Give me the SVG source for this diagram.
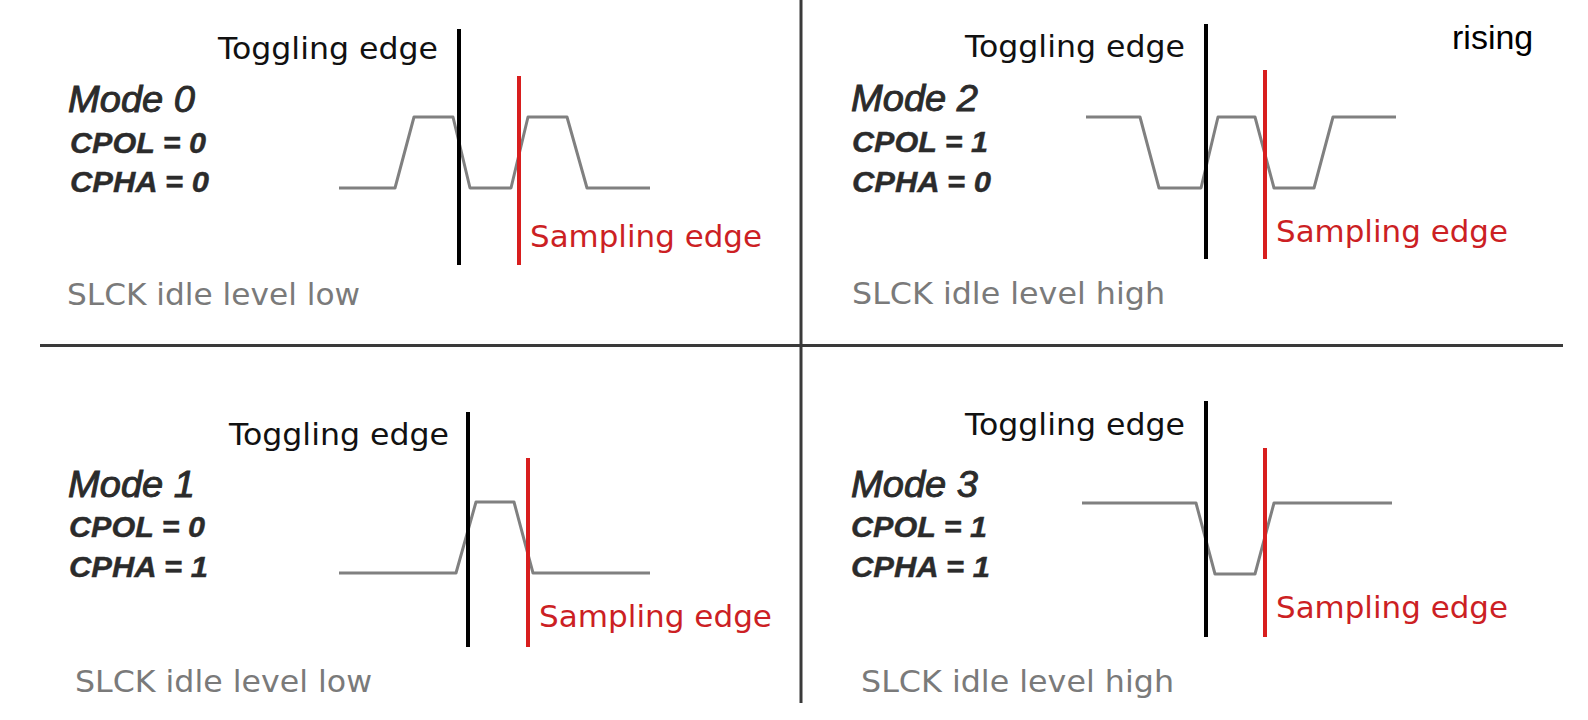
<svg xmlns="http://www.w3.org/2000/svg" width="1588" height="720" viewBox="0 0 1588 720">
<style>
.bg{fill:#ffffff}
.div{stroke:#3a3a3a;stroke-width:3;fill:none}
.tog{stroke:#000;stroke-width:4;fill:none}
.smp{stroke:#d81e1e;stroke-width:4;fill:none}
.wave{stroke:#808080;stroke-width:3;fill:none;stroke-linejoin:round}
.ttog{font-family:"DejaVu Sans",Verdana,sans-serif;font-size:30px;fill:#111}
.tsmp{font-family:"DejaVu Sans",Verdana,sans-serif;font-size:30px;fill:#cc1f24}
.tidle{font-family:"DejaVu Sans",Verdana,sans-serif;font-size:30px;fill:#7a7a7a}
.tmode{font-family:"Liberation Sans",Arial,sans-serif;font-size:36px;font-style:italic;fill:#2b2b2b;stroke:#2b2b2b;stroke-width:0.9px}
.tcp{font-family:"Liberation Sans",Arial,sans-serif;font-size:29px;font-style:italic;font-weight:bold;fill:#2b2b2b;stroke:#2b2b2b;stroke-width:0.4px}
.trise{font-family:"Liberation Sans",Arial,sans-serif;font-size:34px;fill:#000}
</style>
<rect class="bg" x="0" y="0" width="1588" height="720"/>
<g id="dividers">
<line class="div" x1="801" y1="0" x2="801" y2="703"/>
<line class="div" x1="40" y1="345.5" x2="1563" y2="345.5"/>
</g>
<g id="mode0">
<text class="ttog" x="218" y="59" textLength="220" lengthAdjust="spacingAndGlyphs">Toggling edge</text>
<text class="tmode" x="68" y="112" textLength="127" lengthAdjust="spacingAndGlyphs">Mode 0</text>
<text class="tcp" x="70" y="153" textLength="136" lengthAdjust="spacingAndGlyphs">CPOL = 0</text>
<text class="tcp" x="70" y="192" textLength="139" lengthAdjust="spacingAndGlyphs">CPHA = 0</text>
<polyline class="wave" points="339,188 395,188 414,117 453,117 470,188 511,188 528,117 567,117 587,188 650,188"/>
<line class="tog" x1="459" y1="29" x2="459" y2="265"/>
<line class="smp" x1="519" y1="76" x2="519" y2="265"/>
<text class="tsmp" x="530" y="247" textLength="232" lengthAdjust="spacingAndGlyphs">Sampling edge</text>
<text class="tidle" x="67" y="305" textLength="293" lengthAdjust="spacingAndGlyphs">SLCK idle level low</text>
</g>
<g id="mode2">
<text class="ttog" x="965" y="57" textLength="220" lengthAdjust="spacingAndGlyphs">Toggling edge</text>
<text class="trise" x="1452" y="49">rising</text>
<text class="tmode" x="851" y="111" textLength="127" lengthAdjust="spacingAndGlyphs">Mode 2</text>
<text class="tcp" x="852" y="152" textLength="136" lengthAdjust="spacingAndGlyphs">CPOL = 1</text>
<text class="tcp" x="852" y="192" textLength="139" lengthAdjust="spacingAndGlyphs">CPHA = 0</text>
<polyline class="wave" points="1086,117 1140,117 1159,188 1201,188 1218,117 1255,117 1274,188 1314,188 1333,117 1396,117"/>
<line class="tog" x1="1206" y1="24" x2="1206" y2="259"/>
<line class="smp" x1="1265" y1="70" x2="1265" y2="259"/>
<text class="tsmp" x="1276" y="242" textLength="232" lengthAdjust="spacingAndGlyphs">Sampling edge</text>
<text class="tidle" x="852" y="304" textLength="313" lengthAdjust="spacingAndGlyphs">SLCK idle level high</text>
</g>
<g id="mode1">
<text class="ttog" x="229" y="445" textLength="220" lengthAdjust="spacingAndGlyphs">Toggling edge</text>
<text class="tmode" x="68" y="497" textLength="127" lengthAdjust="spacingAndGlyphs">Mode 1</text>
<text class="tcp" x="69" y="537" textLength="136" lengthAdjust="spacingAndGlyphs">CPOL = 0</text>
<text class="tcp" x="69" y="577" textLength="139" lengthAdjust="spacingAndGlyphs">CPHA = 1</text>
<polyline class="wave" points="339,573 456,573 476,502 514,502 533,573 650,573"/>
<line class="tog" x1="468" y1="412" x2="468" y2="647"/>
<line class="smp" x1="528" y1="458" x2="528" y2="647"/>
<text class="tsmp" x="539" y="627" textLength="233" lengthAdjust="spacingAndGlyphs">Sampling edge</text>
<text class="tidle" x="75" y="692" textLength="297" lengthAdjust="spacingAndGlyphs">SLCK idle level low</text>
</g>
<g id="mode3">
<text class="ttog" x="965" y="435" textLength="220" lengthAdjust="spacingAndGlyphs">Toggling edge</text>
<text class="tmode" x="851" y="497" textLength="127" lengthAdjust="spacingAndGlyphs">Mode 3</text>
<text class="tcp" x="851" y="537" textLength="136" lengthAdjust="spacingAndGlyphs">CPOL = 1</text>
<text class="tcp" x="851" y="577" textLength="139" lengthAdjust="spacingAndGlyphs">CPHA = 1</text>
<polyline class="wave" points="1082,503 1196,503 1215,574 1255,574 1274,503 1392,503"/>
<line class="tog" x1="1206" y1="401" x2="1206" y2="637"/>
<line class="smp" x1="1265" y1="448" x2="1265" y2="637"/>
<text class="tsmp" x="1276" y="618" textLength="232" lengthAdjust="spacingAndGlyphs">Sampling edge</text>
<text class="tidle" x="861" y="692" textLength="313" lengthAdjust="spacingAndGlyphs">SLCK idle level high</text>
</g>
</svg>
